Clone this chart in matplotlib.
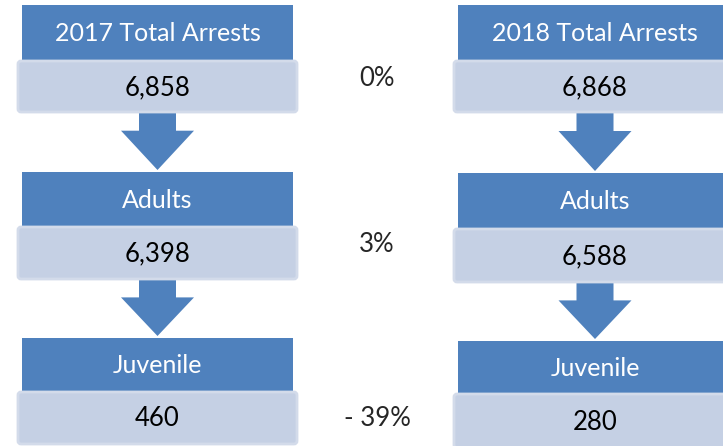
import matplotlib
matplotlib.use("Agg")
import matplotlib.pyplot as plt
from matplotlib.patches import Rectangle, FancyBboxPatch, Polygon

# data
years = ["2017", "2018"]
levels = ["Total Arrests", "Adults", "Juvenile"]
counts_2017 = [6858, 6398, 460]
counts_2018 = [6868, 6588, 280]
pct_change = ["0%", "3%", "- 39%"]

HEADER = "#4F81BD"
VALUE = "#C5D0E4"
VALUE_EDGE = "#D3DBEA"

plt.rcParams["font.family"] = ["Lato", "DejaVu Sans"]

fig = plt.figure(figsize=(7.23, 4.46), dpi=100)
ax = fig.add_axes([0, 0, 1, 1])
ax.set_xlim(0, 723)
ax.set_ylim(446, 0)
ax.axis("off")

# column layout: (left x of header, header width, header tops)
columns = [
    (22, 271, [5, 172, 338]),
    (458, 274, [5, 173, 341]),
]
value_tops = [[60, 226, 391], [60, 228, 393]]
value_bottoms = [[113, 280, 445], [113, 283, 449]]

for ci, (x0, w, tops) in enumerate(columns):
    counts = counts_2017 if ci == 0 else counts_2018
    cx = x0 + w / 2
    for li, level in enumerate(levels):
        top = tops[li]
        vtop = value_tops[ci][li]
        vbot = value_bottoms[ci][li]
        ax.add_patch(Rectangle((x0, top), w, vtop - top, facecolor=HEADER,
                               edgecolor="none", zorder=2))
        label = f"{years[ci]} {level}" if li == 0 else level
        ax.text(cx, (top + vtop) / 2 + 1, label, color="white", fontsize=18,
                ha="center", va="center", zorder=4)
        ax.add_patch(FancyBboxPatch((x0 - 4, vtop + 1), w + 8, vbot - vtop - 2,
                                    boxstyle="round,pad=0,rounding_size=3",
                                    facecolor=VALUE, edgecolor=VALUE_EDGE,
                                    lw=2, zorder=3))
        ax.text(cx, (vtop + vbot) / 2 + 1, f"{counts[li]:,}", color="black",
                fontsize=18.5, ha="center", va="center", zorder=4)
        if li < len(levels) - 1:
            nxt = tops[li + 1]
            shaft_end = vbot + (nxt - vbot) * 0.3
            arrow = Polygon([
                (cx - 18.5, vbot), (cx + 18.5, vbot), (cx + 18.5, shaft_end),
                (cx + 36.5, shaft_end), (cx, nxt - 2), (cx - 36.5, shaft_end),
                (cx - 18.5, shaft_end)], closed=True, facecolor=HEADER,
                edgecolor="none", zorder=1)
            ax.add_patch(arrow)

pct_y = [78, 245, 419]
for p, y in zip(pct_change, pct_y):
    ax.text(377, y, p, color="#262626", fontsize=18.5, ha="center",
            va="center")

fig.savefig("out.png", dpi=100)
